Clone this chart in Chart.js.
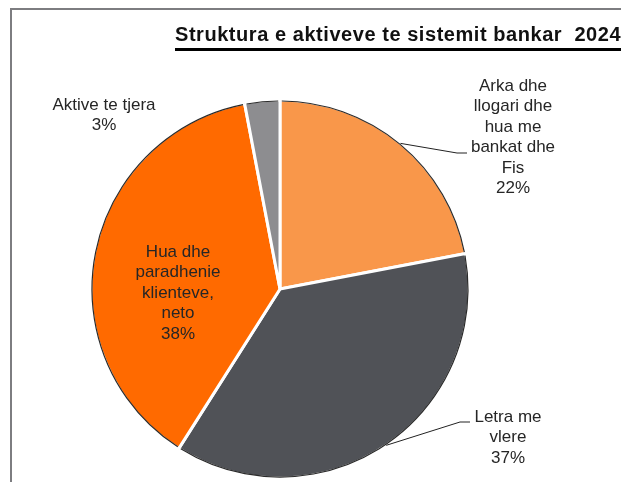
<!DOCTYPE html>
<html>
<head>
<meta charset="utf-8">
<script src="https://cdn.jsdelivr.net/npm/chart.js@4/dist/chart.umd.min.js"></script>
<style>
  html, body { margin: 0; padding: 0; background: #fff; }
  #wrap { position: relative; width: 621px; height: 482px; overflow: hidden; }
  #frame { position: absolute; left: 10px; top: 8px; width: 700px; height: 600px;
           border-left: 2px solid #7d7d80; border-top: 2px solid #7d7d80; }
  #title { position: absolute; left: 175px; top: 22px; width: 520px; white-space: nowrap;
           font: bold 20px "Liberation Sans", Arial, sans-serif; line-height: 24px;
           letter-spacing: 0.55px; color: #111; padding-bottom: 2px; border-bottom: 3px solid #000; }
  #chart-box { position: absolute; left: 0; top: 0; width: 621px; height: 482px; }
</style>
</head>
<body>
<div id="wrap">
  <div id="chart-box"><canvas id="assetsChart"></canvas></div>
  <div id="frame"></div>
  <div id="title">Struktura e aktiveve te sistemit bankar&nbsp; 2024</div>
</div>
<script>
const categories = [
  'Arka dhe llogari dhe hua me bankat dhe Fis',
  'Letra me vlere',
  'Hua dhe paradhenie klienteve, neto',
  'Aktive te tjera'
];
const shares = [22, 37, 38, 3];
const labelLines = [
  ['Arka dhe', 'llogari dhe', 'hua me', 'bankat dhe', 'Fis'],
  ['Letra me', 'vlere'],
  ['Hua dhe', 'paradhenie', 'klienteve,', 'neto'],
  ['Aktive te tjera']
];
const sliceColors = ['#F9974A', '#505257', '#FF6A00', '#8D8D90'];

// where each text block sits; leader = elbow + end of the connector line
const labelPlaces = [
  { x: 513, y: 86, leader: { elbow: [457, 153], end: [467, 153] } },
  { x: 508, y: 417, leader: { elbow: [460, 422], end: [470, 422] } },
  { x: 178, y: 252 },
  { x: 104, y: 105 }
];

// thin dark rim along the outside of every slice
const sliceRims = {
  id: 'sliceRims',
  afterDatasetsDraw(chart) {
    const ctx = chart.ctx;
    ctx.save();
    ctx.strokeStyle = '#2b2b2b';
    ctx.lineWidth = 1.2;
    chart.getDatasetMeta(0).data.forEach(arc => {
      const p = arc.getProps(['x', 'y', 'startAngle', 'endAngle', 'outerRadius']);
      const pad = 1.8 / p.outerRadius;
      ctx.beginPath();
      ctx.arc(p.x, p.y, p.outerRadius - 1, p.startAngle + pad, p.endAngle - pad);
      ctx.stroke();
    });
    ctx.restore();
  }
};

const sliceLabels = {
  id: 'sliceLabels',
  afterDatasetsDraw(chart) {
    const ctx = chart.ctx;
    const arcs = chart.getDatasetMeta(0).data;
    ctx.save();
    ctx.font = '17px "Liberation Sans", Arial, sans-serif';
    ctx.fillStyle = '#262626';
    ctx.textAlign = 'center';
    ctx.textBaseline = 'middle';
    arcs.forEach((arc, i) => {
      const place = labelPlaces[i];
      const lines = labelLines[i].concat([shares[i] + '%']);
      lines.forEach((t, k) => ctx.fillText(t, place.x, place.y + k * 20.5));
      if (place.leader) {
        const p = arc.getProps(['x', 'y', 'startAngle', 'endAngle', 'outerRadius']);
        const mid = (p.startAngle + p.endAngle) / 2;
        const r = p.outerRadius;
        ctx.beginPath();
        ctx.strokeStyle = '#222';
        ctx.lineWidth = 1;
        ctx.moveTo(p.x + Math.cos(mid) * r, p.y + Math.sin(mid) * r);
        ctx.lineTo(place.leader.elbow[0], place.leader.elbow[1]);
        ctx.lineTo(place.leader.end[0], place.leader.end[1]);
        ctx.stroke();
      }
    });
    ctx.restore();
  }
};

new Chart(document.getElementById('assetsChart'), {
  type: 'pie',
  data: {
    labels: categories,
    datasets: [{
      data: shares,
      backgroundColor: sliceColors,
      borderColor: '#ffffff',
      borderWidth: 3
    }]
  },
  options: {
    responsive: true,
    maintainAspectRatio: false,
    animation: false,
    radius: 189,
    layout: { padding: { left: 80, right: 141, top: 99, bottom: 3 } },
    plugins: {
      legend: { display: false },
      tooltip: { enabled: false }
    }
  },
  plugins: [sliceRims, sliceLabels]
});
</script>
</body>
</html>
